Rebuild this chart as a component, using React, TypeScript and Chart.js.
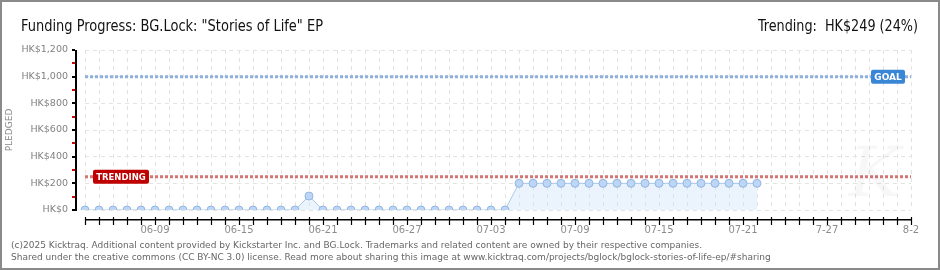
import React, { useEffect, useRef } from "react";
import { Chart, registerables } from "chart.js";

Chart.register(...registerables);

// ---------- data ----------
const days = [
  "06-04", "06-05", "06-06", "06-07", "06-08", "06-09", "06-10", "06-11", "06-12", "06-13",
  "06-14", "06-15", "06-16", "06-17", "06-18", "06-19", "06-20", "06-21", "06-22", "06-23",
  "06-24", "06-25", "06-26", "06-27", "06-28", "06-29", "06-30", "07-01", "07-02", "07-03",
  "07-04", "07-05", "07-06", "07-07", "07-08", "07-09", "07-10", "07-11", "07-12", "07-13",
  "07-14", "07-15", "07-16", "07-17", "07-18", "07-19", "07-20", "07-21", "07-22", "07-23",
  "07-24", "07-25", "07-26", "07-27", "07-28", "07-29", "07-30", "07-31", "08-01", "08-02",
];

const pledged = [
  0, 0, 0, 0, 0, 0, 0, 0, 0, 0,
  0, 0, 0, 0, 0, 0, 105, 0, 0, 0,
  0, 0, 0, 0, 0, 0, 0, 0, 0, 0,
  0, 200, 200, 200, 200, 200, 200, 200, 200, 200,
  200, 200, 200, 200, 200, 200, 200, 200, 200,
];

const xTickDays = ["06-09", "06-15", "06-21", "06-27", "07-03", "07-09", "07-15", "07-21", "07-27", "08-02"];
const xTickLabels = ["06-09", "06-15", "06-21", "06-27", "07-03", "07-09", "07-15", "07-21", "7-27", "8-2"];

const yMin = 0;
const yMax = 1200;
const yStep = 200;

const goal = 1000;
const trending = 249;

const titleText = 'Funding Progress: BG.Lock: "Stories of Life" EP';
const trendingText = "Trending:  HK$249 (24%)";
const yAxisTitle = "PLEDGED";
const goalLabel = "GOAL";
const trendingLabel = "TRENDING";
const footerLines = [
  "(c)2025 Kicktraq. Additional content provided by Kickstarter Inc. and BG.Lock. Trademarks and related content are owned by their respective companies.",
  "Shared under the creative commons (CC BY-NC 3.0) license. Read more about sharing this image at www.kicktraq.com/projects/bglock/bglock-stories-of-life-ep/#sharing",
];

// ---------- styling ----------
const TICK_FONT = "'DejaVu Sans', Verdana, sans-serif";
const TITLE_FONT = "'DejaVu Sans Condensed', 'Liberation Sans Narrow', 'DejaVu Sans', sans-serif";

const decorPlugin = {
  id: "decor",
  beforeDraw(chart: any) {
    const ctx = chart.ctx;
    ctx.save();
    ctx.fillStyle = "#ffffff";
    ctx.fillRect(0, 0, chart.width, chart.height);
    ctx.restore();
  },
  afterDatasetsDraw(chart: any) {
    const { ctx, chartArea } = chart;
    const y = chart.scales.y;
    const drawRef = (val: number, color: string) => {
      const py = y.getPixelForValue(val);
      ctx.save();
      ctx.strokeStyle = color;
      ctx.lineWidth = 3;
      ctx.setLineDash([3, 2]);
      ctx.beginPath();
      ctx.moveTo(chartArea.left, py);
      ctx.lineTo(chartArea.right, py);
      ctx.stroke();
      ctx.restore();
      return py;
    };
    const gy = drawRef(goal, "#8eb0dc");
    const ty = drawRef(trending, "#d67373");

    const box = (x: number, cy: number, w: number, text: string, bg: string, fontSize: number) => {
      ctx.save();
      ctx.fillStyle = bg;
      ctx.beginPath();
      (ctx as any).roundRect(x, cy - 7, w, 14, 2);
      ctx.fill();
      ctx.fillStyle = "#ffffff";
      ctx.font = `bold ${fontSize}px ${TICK_FONT}`;
      ctx.textAlign = "center";
      ctx.textBaseline = "middle";
      ctx.fillText(text, x + w / 2, cy + 0.5, w - 6);
      ctx.restore();
    };
    box(chartArea.right - 40, gy, 34, goalLabel, "#3a86d6", 9);
    box(chartArea.left + 8, ty, 56, trendingLabel, "#bf0000", 8.5);
  },
  afterDraw(chart: any) {
    const { ctx, chartArea } = chart;
    const x = chart.scales.x;
    const y = chart.scales.y;
    ctx.save();

    // y axis title
    ctx.save();
    ctx.translate(10, (chartArea.top + chartArea.bottom) / 2);
    ctx.rotate(-Math.PI / 2);
    ctx.fillStyle = "#8a8a8a";
    ctx.font = `9px ${TICK_FONT}`;
    ctx.textAlign = "center";
    ctx.textBaseline = "middle";
    ctx.fillText(yAxisTitle, 0, 0);
    ctx.restore();

    // watermark
    ctx.fillStyle = "rgba(0,0,0,0.03)";
    ctx.font = "italic 70px 'DejaVu Serif', serif";
    ctx.textAlign = "center";
    ctx.textBaseline = "middle";
    ctx.fillText("K", 875, 178);

    // title & trending
    ctx.fillStyle = "#111";
    ctx.font = `16px ${TITLE_FONT}`;
    ctx.textAlign = "left";
    ctx.textBaseline = "alphabetic";
    ctx.fillText(titleText, 21, 31, 302);
    ctx.textAlign = "right";
    ctx.fillText(trendingText, 918, 31, 160);

    // footer
    ctx.fillStyle = "#666";
    ctx.font = `9px ${TICK_FONT}`;
    ctx.textAlign = "left";
    ctx.fillText(footerLines[0], 11, 248, 706);
    ctx.fillText(footerLines[1], 11, 260, 787);

    // border
    ctx.strokeStyle = "#8a8a8a";
    ctx.lineWidth = 2;
    ctx.strokeRect(1, 1, chart.width - 2, chart.height - 2);

    // x axis line (offset below the plot)
    const axY = chartArea.bottom + 10;
    ctx.fillStyle = "#000000";
    ctx.fillRect(chartArea.left, axY - 1, chartArea.right - chartArea.left + 1, 1.5);
    ctx.strokeStyle = "#000000";
    ctx.lineWidth = 1.2;
    for (let i = 0; i < days.length; i++) {
      const px = Math.round(x.getPixelForValue(i)) + 0.5;
      ctx.beginPath();
      ctx.moveTo(px, axY - 3);
      ctx.lineTo(px, axY + 5);
      ctx.stroke();
    }

    // y axis line (offset left of the plot)
    const axX = Math.round(chartArea.left - 9);
    ctx.fillStyle = "#000000";
    ctx.fillRect(axX - 1, Math.round(chartArea.top), 2, Math.round(chartArea.bottom - chartArea.top) + 1);
    const yt = y.ticks;
    for (let i = 0; i < yt.length; i++) {
      const py = Math.round(y.getPixelForValue(yt[i].value));
      ctx.fillStyle = "#000000";
      ctx.fillRect(axX - 4, py - 1, 3, 2);
      if (i < yt.length - 1) {
        const mid = (yt[i].value + yt[i + 1].value) / 2;
        const pm = Math.round(y.getPixelForValue(mid));
        ctx.fillStyle = "#dd0000";
        ctx.fillRect(axX - 4, pm - 1, 3, 2);
      }
    }
    ctx.restore();
  },
};

export default function App() {
  const ref = useRef<HTMLCanvasElement | null>(null);

  useEffect(() => {
    document.body.style.margin = "0";
    const canvas = ref.current;
    if (!canvas) return;
    const chart = new Chart(canvas, {
      type: "line",
      data: {
        labels: days,
        datasets: [
          {
            data: pledged,
            borderColor: "#a9c8ec",
            borderWidth: 1,
            backgroundColor: "rgba(205,225,248,0.4)",
            fill: "origin",
            tension: 0,
            pointRadius: 4,
            pointHoverRadius: 4,
            pointBackgroundColor: "#bcd6f5",
            pointBorderColor: "#93b6e2",
            pointBorderWidth: 1,
          },
        ],
      },
      options: {
        animation: false,
        responsive: false,
        devicePixelRatio: 1,
        events: [],
        layout: { padding: { top: 50, right: 29, left: 0, bottom: 0 } },
        plugins: {
          legend: { display: false },
          tooltip: { enabled: false },
          title: { display: false },
        },
        scales: {
          x: {
            type: "category",
            offset: false,
            grid: { color: "#e3e3e3", drawTicks: false, lineWidth: 1 },
            border: { display: false, dash: [4, 4] },
            ticks: {
              autoSkip: false,
              maxRotation: 0,
              minRotation: 0,
              padding: 14,
              color: "#8c8c8c",
              font: { family: TICK_FONT, size: 10 },
              callback: (_v: any, idx: number) => {
                const k = xTickDays.indexOf(days[idx]);
                return k >= 0 ? xTickLabels[k] : "";
              },
            },
            afterFit: (scale: any) => {
              scale.height = 60;
            },
          },
          y: {
            min: yMin,
            max: yMax,
            grid: { color: "#e3e3e3", drawTicks: false, lineWidth: 1 },
            border: { display: false, dash: [4, 4] },
            ticks: {
              stepSize: yStep,
              padding: 17,
              color: "#808080",
              font: { family: TICK_FONT, size: 9.5 },
              callback: (v: any) => "HK$" + Number(v).toLocaleString("en-US"),
            },
            afterFit: (scale: any) => {
              scale.width = 85;
            },
          },
        },
      },
      plugins: [decorPlugin],
    } as any);
    return () => chart.destroy();
  }, []);

  return (
    <div style={{ width: 940, height: 270, position: "relative" }}>
      <canvas ref={ref} width={940} height={270} style={{ display: "block", width: 940, height: 270 }} />
    </div>
  );
}
